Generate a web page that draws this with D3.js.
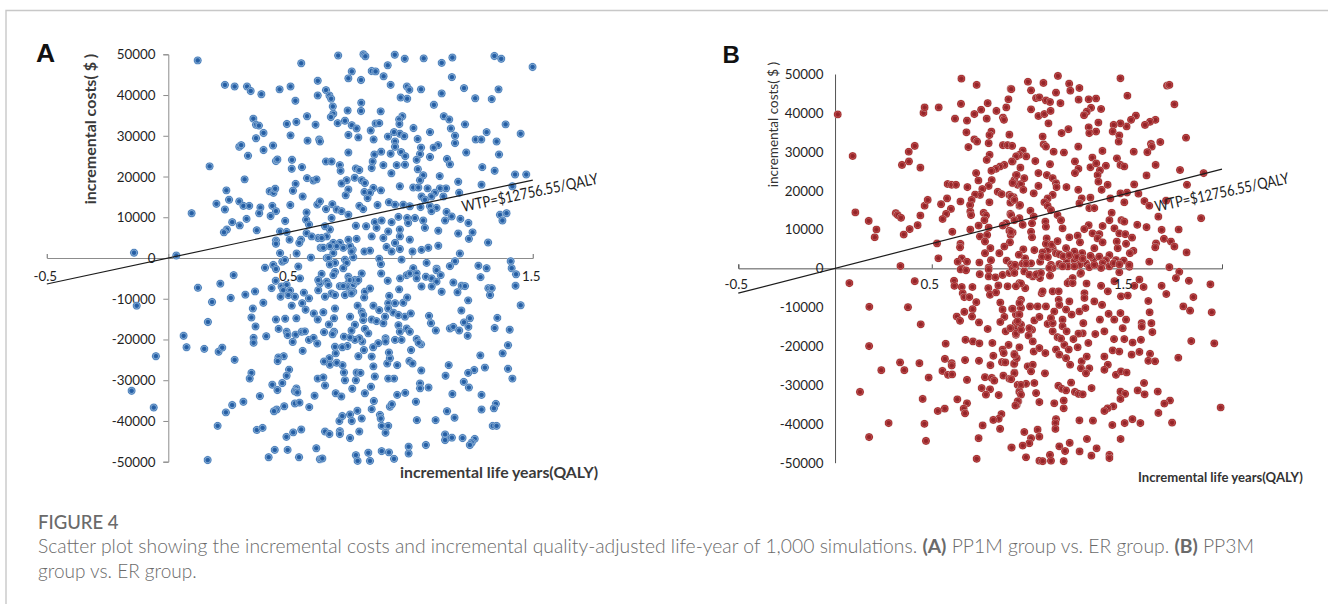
<!DOCTYPE html>
<html><head><meta charset="utf-8">
<script src="https://cdn.jsdelivr.net/npm/d3@7/dist/d3.min.js"></script>
<style>html,body{margin:0;padding:0;background:#fff}svg{display:block}</style>
</head><body><svg id="c" width="1328" height="604"></svg>
<script>
const wtp = 12756.55;
const yTicks = [50000,40000,30000,20000,10000,0,-10000,-20000,-30000,-40000,-50000];
const xTicksA = [-0.5,0.5,1.5];
const xTicksB = [-0.5,0.5,1.5];
// QALY, cost in thousands of $
const pointsA = [[.121,48.5],[.233,42.5],[.273,42.1],[.324,42.1],[.339,41],[.383,40.2],[.458,41.4],[.503,42.1],[.547,47.8],[.523,38.6],[.615,43.5],[.615,39.9],[.35,34.2],[.361,32.7],[.373,32.5],[.392,30.7],[.361,29.4],[.292,27.3],[.3,27.7],[.328,25.1],[.392,26.5],[.431,27.6],[.488,32.9],[.527,33.4],[.571,34.8],[.606,32.7],[.503,30.1],[.573,28.8],[.621,29.1],[.17,22.5],[.443,23.8],[.449,24.2],[.509,24.1],[.508,21.9],[.55,22.3],[.314,19.3],[.571,19.6],[.597,19],[.61,19.3],[.524,18.2],[.239,16.6],[.417,16.4],[.433,16],[.44,17],[.513,16.5],[.553,15.1],[.198,13.3],[.233,11.9],[.25,14.3],[.292,13.9],[.309,12.8],[.333,12.8],[.379,12.4],[.374,11],[.428,12.8],[.443,11.5],[.421,10.3],[.502,13],[.569,11.2],[.613,13.1],[.096,11],[.322,9.6],[.481,9.1],[.263,8.8],[.294,8],[.567,9.4],[.579,8.2],[.364,6.8],[.241,7],[.229,6.3],[.46,6.5],[.487,6.4],[.569,6.1],[.59,5.3],[.443,4.3],[.443,3.5],[.499,4.5],[.546,4.5],[.539,3.7],[.617,4.9],[.46,1.2],[.528,1.1],[.587,.1],[.627,2.5],[-.141,1.3],[.033,.6],
[.398,-2.4],[.432,-1.7],[.443,-2.7],[.469,-.9],[.48,-.5],[.535,-2.1],[.269,-4.2],[.214,-6.3],[.122,-7.3],[.257,-9.8],[.18,-10.8],[.317,-9],[.357,-8.2],[.391,-11],[.442,-5.6],[.425,-7.4],[.466,-7],[.487,-6.6],[.473,-7.9],[.501,-8],[.462,-9.5],[.494,-9.1],[.521,-9.5],[.558,-8.5],[.579,-9.9],[.551,-11.1],[.508,-11.7],[.565,-12.7],[.542,-5],[-.13,-11.7],[.348,-12.4],[.342,-14.6],[.443,-15.1],[.481,-14.9],[.527,-14.8],[.599,-13.6],[.615,-15.1],[.163,-15.7],[.359,-16.8],[.454,-17.4],[.487,-18.1],[.491,-18.9],[.524,-18.8],[.549,-18.1],[.562,-18],[.403,-19.2],[.351,-19.6],[.351,-20.8],[.063,-19.1],[.075,-21.9],[.148,-22.3],[.207,-23],[.222,-22],[-.051,-24.1],[.273,-25],[.512,-20.6],[.579,-20.1],[.598,-19.6],[.613,-21],[.553,-22.8],[.475,-24.1],[.453,-24.4],[.45,-25.3],[.497,-27.4],[.487,-28.9],[.342,-28.2],[.335,-29.6],[.615,-29.6],[.469,-30.7],[.428,-31.1],[.449,-32.4],[.527,-32],[.521,-32.7],[.531,-33],[-.151,-32.6],[.377,-33.9],[.602,-33.8],[-.06,-36.7],[.309,-35.3],[.263,-36.1],[.237,-37.9],[.521,-35.7],[.54,-35.5],[.58,-36.6],[.477,-36.4],[.446,-37.2],[.435,-37.6],[.203,-41.2],[.364,-42.2],[.388,-41.7],[.486,-43.9],[.514,-42.8],[.547,-42.1],[.438,-47.1],[.491,-47.1],[.413,-48.9],[.538,-48.9],[.609,-46.7],[.162,-49.6],[.624,-49.4],
[.699,49.7],[.803,50],[.811,49.5],[.932,49.9],[.973,48.9],[1.051,49],[1.125,47.9],[1.169,49.2],[1.342,49.6],[1.37,48.9],[1.499,46.9],[.903,47.3],[.755,45.8],[.741,44.1],[.837,45.9],[.853,45.8],[.793,43.7],[.886,44.6],[.915,42.5],[1.167,44.4],[.982,42.1],[.992,41.3],[1.04,41.4],[1.217,41.7],[1.359,41.4],[1.125,40.4],[.956,39.4],[.983,39.1],[1.263,39.2],[1.331,39],[.649,41.2],[.663,39.9],[.67,39.1],[.794,38.1],[.677,37.2],[.738,36.2],[.793,36.1],[.874,36],[1.093,37.6],[.679,35.4],[.669,34.6],[.697,33.1],[.727,33.7],[.755,32.6],[.775,31.8],[.963,34.8],[.95,34],[.951,32.9],[.853,33],[.868,33.1],[.833,31.3],[1.134,34.8],[1.156,34],[1.221,32.8],[1.388,32.8],[1.009,31.9],[1.163,31.8],[1.077,30.9],[1.31,30.9],[1.45,30.5],[1.18,30],[1.18,28.2],[1.265,29.1],[1.288,29.1],[1.351,28.6],[.741,30.2],[.782,29.6],[.845,29.1],[.904,29.8],[.929,30.9],[.953,30.5],[.971,29.9],[1.026,29.2],[.933,28.6],[.933,27.3],[1.11,27.7],[1.092,27.1],[1.04,27.1],[.624,28.6],[.741,25.9],[.848,25.4],[.876,26.1],[.915,25.6],[.958,26],[.975,25],[1.036,25.5],[1.077,24.8],[1.022,24.1],[1.226,25.9],[1.361,25.4],[1.147,24.3],[1.159,23],[.841,23.7],[.837,22.1],[.885,22.8],[.94,22.8],[.974,22.9],[.649,23.7],[.672,23.7],[.706,22.8],[.709,21.4],[.772,22],[.786,21.6],[1.027,21.8],[.918,20.8],[1.292,22.3],[1.343,21.4],[1.427,20.5],[1.473,20.5],[1.049,20.3],[1.036,19.1],[1.117,20.1],[.767,19.7],[.796,19.1],[.809,18.4],[.734,19.1],[.713,18.3],[.741,16.8],[.73,15.4],[1.193,18.7],[1.289,18],[1.416,17.6],[.953,17.6],[1.008,17.3],[1.029,17.3],[1.067,17.1],[1.118,17.1],[1.143,17.1],[.807,16.2],[.844,17.2],[.875,16.6],[.83,16],[.82,14.7],[1.097,16],[1.083,15.1],[1.132,15.1],[1.197,16],[1.042,15.1],[1.056,14.3],[.624,13.9],[.675,13.2],[.649,12],[.693,11.9],[.713,11.5],[.741,10.6],[.786,12.8],[.802,12],[.861,13],[.908,13.7],[.933,13.1],[.967,13.1],[.994,12.7],[1.038,12.5],[1.077,12.7],[1.104,12.3],[1.083,11.5],[1.145,11.3],[1.166,10.2],[1.139,9.2],[1.202,9.6],[1.235,8.6],[1.365,10.6],[1.392,11],[1.375,9.2],[.672,9.8],[.772,7.9],[.814,7.8],[.85,8.8],[.878,9.2],[.919,8.8],[.947,10.1],[.983,9.8],[1.015,9.8],[1.049,9.2],[.987,8.6],[1.056,7.4],[.953,7],[.905,6.5],[.857,7.4],[1.111,6.7],[1.193,6],[1.252,6.3],[1.237,4.7],[1.316,3.8],[.837,5.3],[.885,4.9],[.953,5.3],[.994,4.5],[.933,3.7],[.898,2.7],[.953,2.2],[.919,1.6],[.807,1.6],[.83,1.8],[1.005,1.6],[1.042,2],[1.07,2.5],[1.111,3],[1.2,1.1],[.679,3.7],[.706,3.7],[.741,4.5],[.775,4.7],[.638,2.5],[.759,2],[.679,1.2],[.727,-.4],[.761,.2],[.652,0],[.868,-.2],[.875,-1.5],[.96,-.4],[1.063,-1.2],[1.18,-.8],[1.276,-1.9],[1.31,-2.5],[1.409,-.8],[1.413,-2.5],[1.159,-2],[1.104,-2.6],[1.008,-2.5],
[.796,-3.8],[.876,-3.8],[.903,-5.6],[.686,-3.4],[.741,-4.6],[.652,-5.8],[.631,-3.9],[.706,-6.9],[.741,-6.2],[.761,-6.6],[.775,-5.8],[.747,-7.9],[.761,-8.3],[.727,-9.1],[.809,-8.3],[.83,-7.5],[.806,-9.7],[.909,-9.3],[.95,-7.7],[.954,-5],[.981,-4.2],[.994,-3.8],[1.022,-3.8],[1.022,-5],[1.042,-7],[1.06,-4.6],[1.084,-5],[1.104,-5.8],[1.084,-7],[1.104,-3],[1.121,-4.2],[1.125,-8.3],[1.173,-6],[1.207,-6.8],[1.221,-6.9],[1.19,-8.4],[1.285,-4.7],[1.317,-7.4],[1.331,-7.4],[1.324,-9.1],[1.234,-10.4],[1.206,-12.9],[1.241,-14.8],[1.217,-15.8],[1.235,-16.9],[1.232,-19.1],[1.159,-17.3],[1.173,-16.9],[1.197,-17.8],[1.101,-17.8],[1.073,-14.2],[1.081,-16],[1.431,-4],[1.429,-6.8],[1.45,-11.6],[1.354,-14.7],[1.343,-17.2],[1.405,-17.6],[1.398,-21.4],[1.376,-23.4],[1.284,-23.9],[1.398,-27.2],[1.416,-29.6],[1.303,-26.9],[1.259,-27.5],[1.234,-28.2],[1.216,-30.4],[1.237,-31.8],[1.154,-26.3],[1.141,-28.9],[1.041,-27.6],[1.036,-30.8],[1.036,-32],[1.071,-31.8],[1.169,-33.4],[1.289,-33.6],[1.348,-35.8],[1.34,-36.9],[1.289,-37.2],[1.147,-37.6],[1.178,-39.2],[1.1,-39.8],[1.023,-39.8],[1.335,-41.2],[1.351,-41.2],[1.139,-43.3],[1.139,-44.7],[1.167,-44.1],[1.211,-44.2],[1.261,-44.4],[1.249,-45.3],[1.241,-45.9],[1.06,-45.9],[.989,-46.3],[.989,-48],[.878,-47.4],[.908,-47.7],[.929,-49.3],[.823,-47.8],[.83,-49.8],[.772,-48.4],[.779,-49.8],[.634,-49.2],[.786,-42.6],[.748,-44.2],[.706,-42.5],[.706,-43.2],[.645,-42.6],[.663,-43.2],[.704,-40],[.716,-38.8],[.748,-38.4],[.755,-40],[.778,-37.5],[.796,-39.4],[.871,-38.5],[.874,-39.4],[.878,-41.2],[.905,-41.2],[.894,-42.9],[.837,-37.1],[.846,-35.1],[.912,-36.5],[.92,-35.9],[.942,-33.6],[.975,-33.1],[1.019,-35.3],[.809,-33.2],[.834,-31.6],[.757,-32.1],[.689,-33.2],[.712,-34],[.645,-31.3],[.638,-29.3],[.727,-30],[.723,-28.1],[.717,-26.3],[.693,-25.7],[.663,-24.6],[.665,-26.2],[.641,-25.4],[.775,-28.1],[.791,-28.2],[.772,-30],[.85,-29.1],[.844,-26.6],[.905,-29.6],[.929,-29.6],[.942,-26.3],[.992,-25.3],[1.005,-25.9],[.901,-25.9],[.912,-24.6],[.908,-23.2],[.999,-22.6],[1.022,-19.9],[1.04,-21.2],[1.03,-20.8],[.933,-20.1],[.96,-20.1],[.894,-19.7],[.894,-20.5],[.864,-20.9],[.843,-21.9],[.837,-24.2],[.782,-24.1],[.805,-22.6],[.798,-20.5],[.786,-19.7],[.768,-20.1],[.748,-19.5],[.723,-19.3],[.737,-21.6],[.716,-21.9],[.686,-21.8],[.689,-23.4],[.682,-18.1],[.676,-18.7],[.641,-18.2],[.661,-16.3],[.682,-14.8],[.686,-12.4],[.638,-13.3],[.748,-14.4],[.768,-16.4],[.754,-17.8],[.802,-15.2],[.809,-17.4],[.823,-18.5],[.837,-15.1],[.857,-15.5],[.885,-16],[.892,-14.4],[.779,-11.7],[.796,-13.2],[.802,-14],[.844,-11.7],[.868,-12.8],[.905,-11.1],[.905,-12.4],[.933,-11.1],[.967,-11],[.983,-9.7],[.926,-13.4],[.947,-14],[.974,-14.4],[.998,-13.6],[.947,-16.5],[.953,-18.1],[.981,-17.3],[.994,-18.1],
[.652,5.3],[.665,7],[.645,7.8],[.693,2.9],[.72,2.5],[.748,2.9],[.754,1.6],[.665,2.9],[.659,0],[.686,-1.2],[.734,-1.2],[.72,-2.5],[.665,-1.6],[.631,4.9],[.747,-5.4],[.734,-7],[.768,-5.4],[.72,-6.9],[.754,-8.7],[.782,-5.4],[.672,-8.7],[.686,-9.1],[.645,-9.5],[.659,-6.6],[.679,-4.2],[.624,-6.2],[.617,-5.4],[.617,-7.9]];
const pointsB = [[.014,39.6],[.091,28.9],[.105,14.4],[.174,12.2],[.214,10],[.205,8],[.338,.6],[.355,8.7],[.386,10.1],[.427,11.1],[.314,14.2],[.324,13.7],[.341,13],[.441,13.6],[.463,16.1],[.479,17.6],[.346,26.6],[.382,27.5],[.381,30],[.412,31.5],[.441,25.9],[.457,40],[.463,41.4],[.536,41.4],[.527,6.4],[.534,2.6],[.653,48.8],[.732,47.2],[.908,46.2],[.896,43.5],[.885,41.4],[.651,42.3],[.789,42.5],[.755,40.8],[.72,39.7],[.62,38.5],[.682,38],[.784,38.5],[.834,40.5],[.868,38.8],[.873,38.2],[.679,35],[.808,35.2],[.798,34.3],[.901,34.4],[.72,33.2],[.734,32.6],[.689,31.2],[.794,32.2],[.868,31.7],[.892,31.7],[.915,31.5],[.799,29.2],[.784,27.9],[.918,27.5],[.941,28.9],[.875,26.6],[.853,26.2],[.832,25.6],[.808,25.1],[.729,24.5],[.741,22.6],[.81,22.7],[.794,21.2],[.761,20.4],[.582,21.7],[.603,21.5],[.625,21.5],[.684,20.9],[.749,18.9],[.724,19],[.579,18],[.548,16.5],[.648,17.2],[.706,17.6],[.698,16.3],[.798,17],[.841,19.7],[.861,19.1],[.901,18.9],[.923,18.3],[.906,16.9],[.953,16.1],[.599,15.3],[.574,14],[.556,12.7],[.699,14.6],[.703,13.7],[.768,14.3],[.78,13.6],[.772,12.4],[.906,14],[.884,11.6],[.867,11],[.742,11],[.794,10.5],[.699,10],[.606,9.4],[.749,8.2],[.786,8.6],[.775,6.9],[.901,9.7],[.918,9.2],[.908,8.6],[.904,6.7],[.875,5.6],[.803,5.2],[.849,3.9],[.775,3.9],[.648,6.3],[.646,5.4],[.655,2.6],[.634,1.7],[.682,1.7],[.746,1.5],[.806,2.1],[.887,2],[.91,1],[.932,.3],[.794,.2],[.655,0],[.935,24],[.927,22.7],[.918,21.9],[.944,21.5],
[1.152,49.5],[1.475,48.9],[1.716,47],[1.728,47.2],[.997,48],[1.077,47.7],[1.21,47.5],[1.263,46.4],[1.216,45.7],[.911,46.1],[1.013,45.8],[1.142,45.2],[1.511,44.4],[1.165,42.5],[1.039,43.8],[1.056,44],[1.09,43.2],[1.111,42.8],[1.259,43.4],[1.311,43.5],[1.349,43.7],[1.754,42.2],[1.013,40.9],[1.051,39.2],[1.082,39.7],[1.114,40.5],[1.103,37.3],[1.323,41.3],[1.301,40.3],[1.287,39.4],[1.375,41],[1.555,39.3],[1.53,38.2],[1.507,36.5],[1.475,37.3],[1.44,36.9],[1.435,35.2],[1.361,37.5],[1.311,36.3],[1.314,34.8],[1.349,35.2],[1.206,35.8],[1.171,34.8],[1.656,38.2],[1.628,37.7],[1.602,36.9],[1.469,34.2],[1.466,32.6],[1.814,33.6],[1.681,32.5],[1.633,32],[1.637,31.3],[1.614,29.9],[1.544,30],[1.073,33.9],[1.078,31.9],[1.09,31.3],[1.257,31.3],[1.13,30],[1.183,29.8],[1.382,30.2],[.97,30.3],[.953,29.2],[.936,28.8],[.988,28.8],[1.035,27.6],[.915,27.5],[1.111,26.8],[1.24,27.5],[1.258,25.6],[1.24,24.5],[1.33,28.5],[1.32,26],[1.35,27],[1.4,26.4],[1.457,28.3],[1.475,26.6],[1.495,26.2],[1.657,26.6],[1.783,25.3],[1.905,24.5],[1.61,23.9],[1.369,25.2],[1.357,24],[1.361,22.3],[1.378,20.2],[1.409,21.5],[1.546,21.6],[1.819,21.5],[.958,25.9],[.939,24],[.918,22],[.961,21.7],[.978,23.2],[.973,20.2],[1.051,24.5],[1.051,21.2],[1.027,19.3],[1.095,24],[1.125,23.2],[1.142,21.9],[1.145,20.9],[1.196,20.9],[1.257,20.2],[1.275,18],[1.263,16.7],[1.32,18.2],[1.314,15.5],[1.34,15.5],[1.423,18],[1.475,19.3],[1.509,19.5],[1.568,19.2],[1.495,17],[1.599,17.3],[1.624,16.1],[1.671,13.3],[1.711,17.4],[.91,18.5],[.927,17.6],[.956,16.3],[1.125,18.9],[1.099,18],[1.082,17],[1.099,16.1],[1.116,15],[1.01,14.8],[1.892,12.9],[.91,13.7],[.953,12.9],[.97,11.2],[.927,12.4],[1.027,13.3],[1.018,11.6],[1.013,9.4],[1.018,8],[1.087,12],[1.09,10.7],[1.15,13.7],[1.168,12.4],[1.176,10.3],[.91,9.4],[1.094,7.7],[1.43,14.3],[1.418,12.4],[1.383,10.9],[1.48,12.4],[1.495,12],[1.311,11.1],[1.288,10.1],[1.562,11.2],[1.61,10.6],[1.776,10],[1.688,9.9],[1.444,10.3],[1.469,9],[1.5,8.8],[1.535,7.9],[1.331,9],[1.366,8.8],[1.357,7.7],[1.211,8],[1.254,8.4],[1.266,6.7],[1.383,6.7],[1.456,6.9],[1.504,6.3],[1.461,5.2],[1.542,4.5],[1.524,3.9],[1.7,7.6],[1.736,6.9],[1.754,5.6],[1.659,6.4],[1.655,5.4],[1.817,4.1],[.973,4.9],[1.34,5.2],[1.194,5.2],[1.125,5.2],[1.099,4.7],[1.142,3.9],[1.237,4.3],[1.277,3.9],[1.073,4.1],[.982,2.6],[1.06,1.7],[1.116,.9],[1.197,1.7],[1.237,2.1],[1.297,1.3],[1.337,2.4],[1.366,3],[1.418,3.4],[1.4,2.1],[1.452,2.1],[1.492,2],[1.624,1.7],[1.728,.3],[1.521,.4],[1.013,1.3],[1.159,1.1],[1.263,.9],[1.383,1.3],
[.074,-3.8],[.412,-3.3],[.177,-9.9],[.377,-10],[.443,-14.4],[.176,-20],[.572,-19.4],[.615,-3.2],[.617,-4.5],[.649,-.3],[.677,-.5],[.655,-4.8],[.66,-6.4],[.668,-7.4],[.694,-7.4],[.71,-4.8],[.73,-8.7],[.711,-10.5],[.668,-11.2],[.629,-12.4],[.646,-13.5],[.708,-12.4],[.744,-13.9],[.789,-15.6],[.748,-1.5],[.794,-.3],[.794,-2.1],[.829,-2.3],[.792,-5.1],[.801,-6.8],[.832,-6.2],[.844,-4.4],[.892,-4.6],[.866,-1.7],[.901,-1.2],[.918,-.3],[.854,-8.8],[.866,-10.6],[.875,-12.5],[.854,-13.8],[.915,-10.4],[.953,-3.8],[.935,-11.9],[.944,-13.8],[.935,-15.4],[.935,-17.1],[.882,-16.2],[.674,-18.4],[.713,-18.8],[.746,-19.3],[.813,-19.2],[.897,-19.7],[.866,-20.9],[.872,-21.8],[.818,-22.5],[.927,-22],[.863,-24.1],[.88,-24.2],[.925,-24.6],[.803,-24.9],[.744,-23.8],[.672,-23.6],[.568,-23.3],[.603,-24.4],[.603,-25],[.436,-24.4],[.336,-24.2],[.358,-26.2],[.239,-26.2],[.484,-28.1],[.555,-26.4],[.584,-27.4],[.605,-27.3],[.682,-28.7],[.775,-28],[.81,-28.2],[.823,-28.9],[.87,-27.6],[.901,-28.4],[.927,-26.8],[.129,-31.8],[.453,-33.6],[.758,-30.8],[.801,-31.1],[.78,-32.5],[.846,-32.6],[.632,-33.7],[.682,-34.7],[.665,-36.1],[.672,-37.3],[.567,-36.1],[.531,-36.7],[.939,-35.1],[.947,-34.2],[.86,-37.5],[.846,-38.7],[.818,-39],[.277,-39.8],[.462,-40],[.763,-40.4],[.853,-41.3],[.176,-43.4],[.47,-44.4],[.742,-43.7],[.911,-46.1],[.732,-49],[.944,-30],[.953,-31.8],
[1.469,-1],[1.779,-.9],[1.762,-2.5],[1.829,-3.2],[1.94,-4.1],[1.688,-4.5],[1.712,-6.6],[1.852,-7.4],[1.8,-9.8],[1.835,-10.9],[1.947,-11.3],[1.841,-18.7],[1.96,-19.3],[1.774,-23],[1.993,-35.8],[1.597,-29.5],[1.564,-31.4],[1.6,-32.4],[1.668,-31.7],[1.731,-34],[1.702,-34.8],[1.671,-37.2],[1.742,-39.7],[1.537,-38.8],[1.497,-39.8],[1.578,-39.8],[1.433,-40.3],[1.476,-43.9],[1.438,-35.5],[1.409,-36],[1.392,-36.7],[1.475,-31.7],[1.499,-32.3],[1.475,-33.6],[1.326,-30.8],[1.22,-29.4],[1.154,-30.2],[1.173,-31],[1.194,-31.4],[1.24,-31.8],[1.259,-32.3],[1.28,-32.4],[1.133,-34.7],[1.182,-34],[1.182,-36],[1.056,-34.4],[1.039,-32.1],[.953,-31.7],[.961,-32.5],[.944,-34.2],[.932,-35.3],[1.263,-39.1],[1.333,-39.2],[1.142,-38.8],[1.139,-39.8],[1.139,-41.3],[1.047,-41.5],[1.056,-43.3],[1.013,-43.7],[1.004,-45],[.978,-42.1],[.913,-46.1],[.97,-45.6],[.987,-48.6],[1.056,-49.5],[1.073,-49.6],[1.111,-48],[1.116,-49.5],[1.182,-49.6],[1.159,-45.8],[1.189,-47],[1.213,-44.9],[1.264,-47.1],[1.302,-43.9],[1.352,-46.3],[1.325,-48.2],[1.418,-48],[1.418,-48.8],[1.03,-29.5],[.987,-29.7],[.961,-30],[.927,-27],[.91,-28.5],[1.085,-27],[.996,-25.2],[1.022,-24.8],[1.013,-26.5],[.927,-24.5],[.939,-23.1],[.927,-22.2],[.953,-20.3],[1.027,-21.4],[1.056,-20.5],[1.087,-21.8],[1.142,-20.9],[1.159,-22.2],[1.194,-23.1],[1.215,-24.8],[1.185,-19.7],[1.208,-20.9],[1.254,-20.3],[1.309,-19.2],[1.275,-23.9],[1.301,-22.7],[1.271,-25.7],[1.314,-25.7],[1.297,-27],[1.392,-22.7],[1.41,-24.8],[1.392,-26.1],[1.452,-27.4],[1.478,-26.5],[1.507,-26.8],[1.435,-21.1],[1.469,-21.4],[1.533,-22.2],[1.573,-21.5],[1.628,-22],[1.619,-23.8],[1.654,-23.9],[1.495,-18.2],[1.538,-19.1],[1.581,-18.4],[1.442,-18.2],[1.392,-16.2],[1.345,-16.9],[1.28,-16.7],[1.258,-16.8],[1.232,-18.2],[1.125,-16.2],[1.15,-17.7],[1.168,-18.1],[1.176,-13.2],[1.176,-14.9],[1.197,-16.2],[1.283,-14.1],[1.03,-13.4],[1.056,-12.5],[1.099,-14.3],[1.018,-15.8],[1,-17.3],[1.022,-18.8],[.935,-14.1],[.961,-14.5],[.935,-16.8],[.906,-15.4],[1.263,-11.1],[1.294,-10.2],[1.223,-11.9],[1.369,-13.2],[1.443,-13.2],[1.414,-11.7],[1.475,-11.5],[1.504,-13.2],[1.487,-15.4],[1.585,-14.1],[1.585,-15],[1.635,-14.1],[1.64,-16.4],[1.626,-11.3],[1.619,-8.4],[1.34,-8.5],[1.38,-9.4],[1.211,-8.5],[1.194,-10.6],[1.156,-8.1],[1.125,-5.9],[1.156,-5.9],[1.09,-9.8],[1.047,-9.8],[1.008,-9.8],[.961,-8.1],[.961,-10.2],[.918,-10.4],[1.068,-6.4],[.983,-5.1],[.961,-3.9],[1.059,-2.5],[1.047,-1.4],[.978,-.8],[1.022,-2.1],[1.111,-1.9],[1.211,-3.4],[1.268,-1.4],[1.3,-3.9],[1.289,-6.4],[1.289,-7.6],[1.375,-4.5],[1.41,-5.9],[1.444,-3.3],[1.478,-7.2],[1.513,-7],[1.547,-4.5],[1.573,-2.9],[1.595,-4.8],[1.521,.9],[1.203,.5],[1.314,.3],[1.375,.1],[1.418,.5],[1.125,.1],[.918,.1],[.97,1.2],
[.93,.9],[.95,3.5],[1.03,4.7],[1.07,3],[1.1,2.9],[1.16,3.6],[1.18,3.1],[1.21,3.4],[1.25,2.9],[1.28,2.5],[1.32,3.2],[1.34,.9],[1.44,1.3],[1.47,1],[1.09,6.3],[1.12,6.1],[1.15,7],[.987,1.2],[1.004,-1.6],[1.039,-1.6],[1.064,-1.2],[1.107,.1],[1.176,.5],[1.237,.5],[1.271,-1.2],[1.228,-2.5],[1.202,-3.8],[1.228,-3.8],[1.073,-5.9],[.935,-4.6],[.927,-1.2],[.953,-8.9],[.953,-11.9],[.944,-13.6],[.961,-15.8],[1.004,-15.4],[1.159,-9.4],[1.133,-11.1],[1.125,-14.1],[1.116,-12.8]];

const svg = d3.select("#c");
const defs = svg.append("defs");
const ga = defs.append("radialGradient").attr("id","dotA");
[[0,"#22599f"],[.42,"#2a64a9"],[.62,"#7ea6d0"],[.84,"#4d80bb"],[1,"#a9c5e2"]].forEach(s=>ga.append("stop").attr("offset",s[0]).attr("stop-color",s[1]));
const gb = defs.append("radialGradient").attr("id","dotB");
[[0,"#8f2226"],[.45,"#9a282c"],[.6,"#b8494c"],[.84,"#a9302f"],[1,"#c9a5a5"]].forEach(s=>gb.append("stop").attr("offset",s[0]).attr("stop-color",s[1]));

svg.append("path").attr("d","M6 604V10.5H1328").attr("fill","none").attr("stroke","#c8c8c8").attr("stroke-width",1.4);

function panel(o){
  const x = d3.scaleLinear().domain(o.xd).range(o.xr);
  const y = d3.scaleLinear().domain([-50000,50000]).range(o.yr);
  const g = svg.append("g");
  g.append("g").attr("transform",`translate(0,${y(0)})`)
    .call(d3.axisBottom(x).tickValues(o.xTickMarks).tickSize(-4).tickFormat(""))
    .call(a=>a.selectAll("line,path").attr("stroke",o.axis).attr("stroke-width",o.sw));
  g.append("g").attr("transform",`translate(${x(0)},0)`)
    .call(d3.axisLeft(y).tickValues(yTicks).tickSize(o.ytick).tickFormat(""))
    .call(a=>a.selectAll("line,path").attr("stroke",o.axis).attr("stroke-width",o.sw));
  g.selectAll("text.yt").data(yTicks).join("text").attr("class","yt")
    .attr("x",o.ylx).attr("y",d=>y(d)+5).attr("text-anchor","end")
    .attr("font-family","Lato").attr("font-size",o.tfs).attr("fill","#1f1f1f").text(d=>d);
  g.selectAll("circle").data(o.pts).join("circle")
    .attr("cx",d=>x(d[0])).attr("cy",d=>y(d[1]*1000)).attr("r",o.r).attr("fill",`url(#${o.grad})`);
  g.selectAll("text.xt").data(o.xt).join("text").attr("class","xt")
    .attr("x",d=>x(d)+o.xlo).attr("y",y(0)+o.xly).attr("text-anchor","middle")
    .attr("font-family","Lato").attr("font-size",o.tfs).attr("fill","#1f1f1f").text(d=>d);
  g.append("line").attr("x1",x(o.xd[0])).attr("y1",y(o.xd[0]*wtp)).attr("x2",x(o.xd[1])).attr("y2",y(o.xd[1]*wtp))
    .attr("stroke","#1c1c1c").attr("stroke-width",1.2);
  g.append("text").attr("transform",`translate(${o.wx},${o.wy}) rotate(${o.wa})`)
    .attr("font-family","Lato").attr("font-size",o.wfs).attr("fill","#1c1c1c")
    .attr("textLength",o.wl).attr("lengthAdjust","spacingAndGlyphs").text("WTP=$12756.55/QALY");
  g.append("text").attr("transform",`translate(${o.ytx},${o.yty}) rotate(-90)`).attr("text-anchor","middle")
    .attr("font-family","Lato").attr("font-weight",o.ytw).attr("font-size",o.ytfs).attr("fill",o.tc).text(o.yt);
  g.append("text").attr("x",o.xtx).attr("y",o.xty)
    .attr("font-family","Lato").attr("font-weight",700).attr("font-size",o.xtfs).attr("fill",o.tc).text(o.xtitle);
  g.append("text").attr("x",o.lx).attr("y",o.ly).attr("font-family","'Liberation Sans'").attr("font-weight",700).attr("font-size",o.lfs).attr("fill","#111").text(o.letter);
}
panel({pts:pointsA,xd:[-0.5,1.5],xr:[46.8,532.8],yr:[461.7,54.3],xTickMarks:[-0.5,0,0.5,1,1.5],xt:xTicksA,axis:"#8c8c8c",sw:1,ytick:5,
  ylx:155.5,tfs:13.4,xlo:-1.5,xly:23,r:4.2,grad:"dotA",wx:463,wy:212,wa:-11.8,wfs:15.5,wl:139,
  ytx:96,yty:129,ytw:700,ytfs:16,tc:"#3a3a3a",yt:"incremental costs( $ )",xtx:400,xty:478,xtfs:15.8,xtitle:"incremental life years(QALY)",lx:36,ly:62,lfs:26.5,letter:"A"});
panel({pts:pointsB,xd:[-0.5,2],xr:[738.3,1222],yr:[462.7,74],xTickMarks:[-0.5,0,0.5,1,1.5],xt:xTicksB,axis:"#555",sw:1,ytick:0,
  ylx:823.5,tfs:13.4,xlo:-2,xly:21,r:4.1,grad:"dotB",wx:1156,wy:212,wa:-12.2,wfs:15.5,wl:137,
  ytx:778,yty:124.5,ytw:400,ytfs:13.5,tc:"#333",yt:"incremental costs( $ )",xtx:1138,xty:482,xtfs:13.1,xtitle:"Incremental life years(QALY)",lx:722.5,ly:63,lfs:24,letter:"B"});

const cap = svg.append("g").attr("font-family","Lato").attr("fill","#6a6a6a").attr("font-size",19).attr("font-weight",300);
cap.append("text").attr("x",38).attr("y",529).attr("font-size",18.5).attr("font-weight",500).text("FIGURE 4");
const l1 = cap.append("text").attr("x",38).attr("y",553).attr("textLength",1216).attr("lengthAdjust","spacingAndGlyphs");
l1.append("tspan").text("Scatter plot showing the incremental costs and incremental quality-adjusted life-year of 1,000 simulations. ");
l1.append("tspan").attr("font-weight",700).text("(A)");
l1.append("tspan").text(" PP1M group vs. ER group. ");
l1.append("tspan").attr("font-weight",700).text("(B)");
l1.append("tspan").text(" PP3M");
cap.append("text").attr("x",38).attr("y",578).text("group vs. ER group.");
</script></body></html>
